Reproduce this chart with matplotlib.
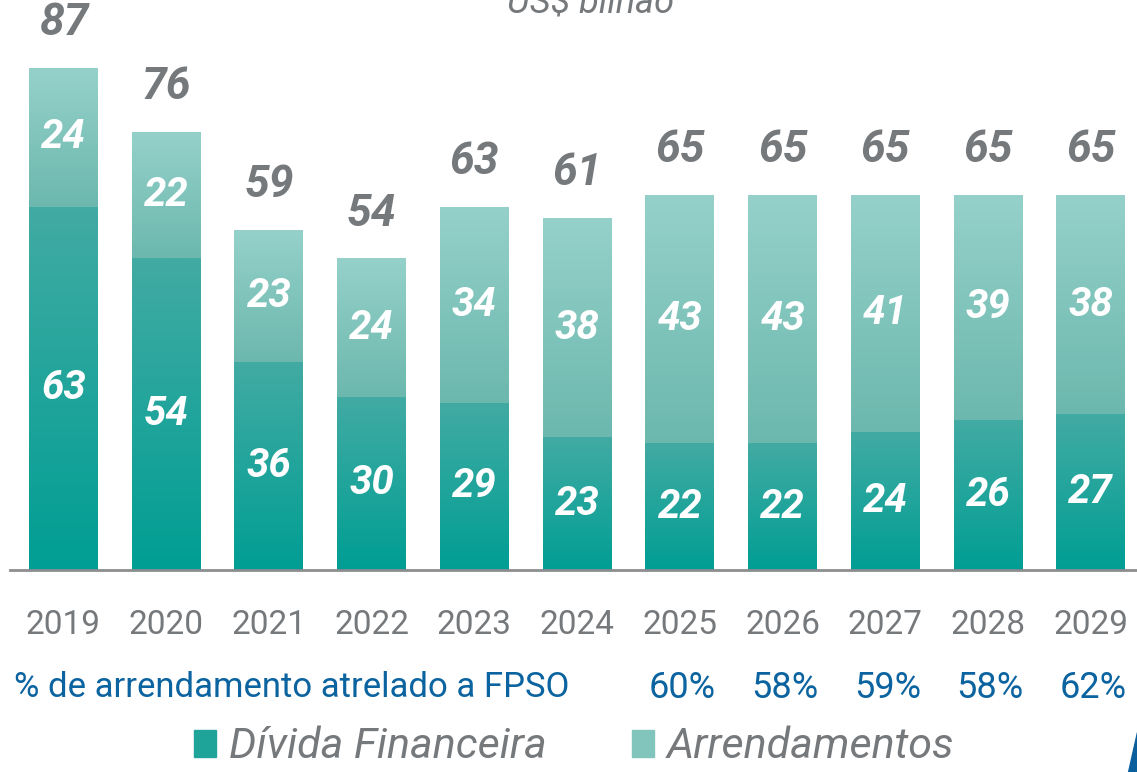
import matplotlib.pyplot as plt
import numpy as np
from matplotlib.colors import LinearSegmentedColormap
from matplotlib.patches import Rectangle, Polygon

years = ['2019', '2020', '2021', '2022', '2023', '2024',
         '2025', '2026', '2027', '2028', '2029']
divida = [63, 54, 36, 30, 29, 23, 22, 22, 24, 26, 27]
arrend = [24, 22, 23, 24, 34, 38, 43, 43, 41, 39, 38]
totais = [87, 76, 59, 54, 63, 61, 65, 65, 65, 65, 65]
pct_fpso = ['', '', '', '', '', '', '60%', '58%', '59%', '58%', '62%']

plt.rcParams['font.family'] = ['Roboto', 'DejaVu Sans']

gray = '#76797c'
blue = '#0b63a0'
cm_div = LinearSegmentedColormap.from_list('div', ['#009e94', '#42aba3'])
cm_arr = LinearSegmentedColormap.from_list('arr', ['#6cb8ae', '#95d1ca'])

fig = plt.figure(figsize=(11.37, 7.72), dpi=100)
ax = fig.add_axes([10/1137, 202/772, 1127/1137, 570/772])

x = np.arange(len(years))
b1 = ax.bar(x, divida, width=0.67, color='#2aa59c', zorder=2)
b2 = ax.bar(x, arrend, bottom=divida, width=0.67, color='#82c5bd', zorder=2)

# vertical gradient inside each bar
grad = np.linspace(0, 1, 256).reshape(-1, 1)
for bars, cm in ((b1, cm_div), (b2, cm_arr)):
    for p in bars:
        x0, y0 = p.get_x(), p.get_y()
        w, h = p.get_width(), p.get_height()
        im = ax.imshow(grad, cmap=cm, origin='lower', aspect='auto',
                       extent=[x0, x0 + w, y0, y0 + h], zorder=3)
        im.set_clip_path(p)

ax.set_xlim(-0.52, 10.45)
ax.set_ylim(0, 98.8)

for i in range(len(years)):
    ax.text(x[i], divida[i] / 2, str(divida[i]), ha='center', va='center',
            color='white', fontsize=29, fontweight='bold', style='italic', zorder=4)
    ax.text(x[i], divida[i] + arrend[i] / 2, str(arrend[i]), ha='center', va='center',
            color='white', fontsize=29, fontweight='bold', style='italic', zorder=4)
    ax.annotate(str(totais[i]), (x[i], totais[i]), xytext=(0, 17), textcoords='offset points',
                ha='center', va='bottom', color=gray, fontsize=32,
                fontweight='bold', style='italic')
    if pct_fpso[i]:
        ax.text(x[i] + 0.02, -0.207, pct_fpso[i], transform=ax.get_xaxis_transform(),
                ha='center', va='center', color=blue, fontsize=26)

ax.text(-0.48, -0.207, '% de arrendamento atrelado a FPSO', transform=ax.get_xaxis_transform(),
        ha='left', va='center', color=blue, fontsize=25)

ax.set_xticks(x)
ax.set_xticklabels(years, fontsize=24, color=gray)
ax.tick_params(axis='x', length=0, pad=28)
ax.set_yticks([])
for s in ['top', 'left', 'right']:
    ax.spines[s].set_visible(False)
ax.spines['bottom'].set_color('#8b8d8f')
ax.spines['bottom'].set_linewidth(2)
ax.spines['bottom'].set_zorder(5)

fig.text(0.519, 1 - 12/772, 'US$ bilhão', ha='center', va='baseline',
         color=gray, fontsize=26, style='italic')

handles = [Rectangle((0, 0), 1, 1, color='#1fa49a'), Rectangle((0, 0), 1, 1, color='#82c5bd')]
fig.legend(handles, ['Dívida Financeira', 'Arrendamentos'], loc='center',
           bbox_to_anchor=(0.505, 1 - 747/772), ncol=2, frameon=False,
           prop={'size': 31, 'style': 'italic'}, labelcolor=gray,
           handlelength=0.5, handleheight=0.6, handletextpad=0.3, columnspacing=2.0,
           borderpad=0.1)

fig.patches.append(Polygon([[1128/1137, 0], [1, 0], [1, 40/772]], closed=True,
                           transform=fig.transFigure, color='#0a5f9c'))

fig.savefig('out.png', dpi=100)
